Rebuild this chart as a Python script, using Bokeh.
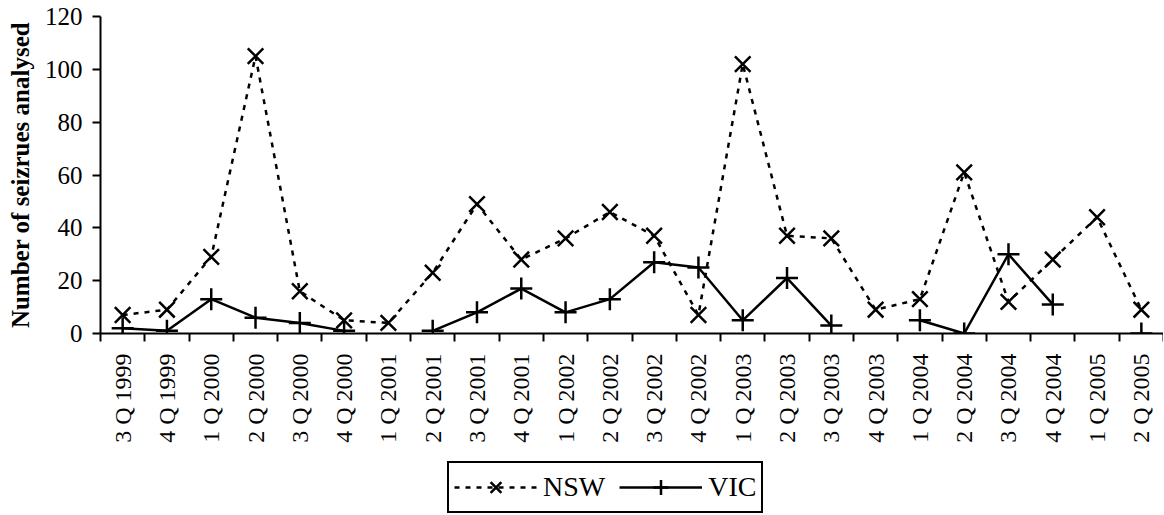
import math
from bokeh.plotting import figure
from bokeh.layouts import column
from bokeh.models import Range1d, FixedTicker, Legend, LegendItem, ColumnDataSource, LinearAxis
from bokeh.embed import file_html
from bokeh.resources import INLINE

quarters = ["3 Q 1999", "4 Q 1999", "1 Q 2000", "2 Q 2000", "3 Q 2000", "4 Q 2000",
            "1 Q 2001", "2 Q 2001", "3 Q 2001", "4 Q 2001", "1 Q 2002", "2 Q 2002",
            "3 Q 2002", "4 Q 2002", "1 Q 2003", "2 Q 2003", "3 Q 2003", "4 Q 2003",
            "1 Q 2004", "2 Q 2004", "3 Q 2004", "4 Q 2004", "1 Q 2005", "2 Q 2005"]
nsw = [7, 9, 29, 105, 16, 5, 4, 23, 49, 28, 36, 46, 37, 7, 102, 37, 36, 9, 13, 61, 12, 28, 44, 9]
nan = float("nan")
vic = [2, 1, 13, 6, 4, 1, nan, 1, 8, 17, 8, 13, 27, 25, 5, 21, 3, nan, 5, 0, 30, 11, nan, 0]
y_ticks = [0, 20, 40, 60, 80, 100, 120]
series = ["NSW", "VIC"]

FONT = "Liberation Serif"
NSW_LINE = dict(line_color="black", line_width=2.5, line_dash="5 6")
VIC_LINE = dict(line_color="black", line_width=2.5)
NSW_MARK = dict(marker="x", size=22, line_color="black", line_width=2.5)
VIC_MARK = dict(marker="cross", size=22, line_color="black", line_width=2.5)

xpos = [i + 0.5 for i in range(len(quarters))]
src = ColumnDataSource(dict(x=xpos, nsw=nsw, vic=vic))

p = figure(width=1163, height=444, frame_width=1063, frame_height=317,
           output_backend="svg", toolbar_location=None,
           x_range=Range1d(0, len(quarters)), y_range=Range1d(0, 120),
           min_border_left=100, min_border_right=0, min_border_top=16, min_border_bottom=0,
           x_axis_location=None, y_axis_location=None)
p.outline_line_color = None
p.xgrid.visible = False
p.ygrid.visible = False

yax = LinearAxis(ticker=FixedTicker(ticks=y_ticks, minor_ticks=[]))
yax.axis_line_width = 2
yax.major_tick_line_width = 2
yax.major_tick_out = 8
yax.major_tick_in = 0
yax.minor_tick_out = 0
yax.major_label_text_font = FONT
yax.major_label_text_font_size = "25px"
yax.major_label_text_color = "black"
yax.major_label_standoff = 10
yax.axis_label = "Number of seizrues analysed"
yax.axis_label_text_font = FONT
yax.axis_label_text_font_style = "bold"
yax.axis_label_text_font_size = "25px"
yax.axis_label_text_color = "black"
yax.axis_label_standoff = 8
p.add_layout(yax, "left")

xax = LinearAxis(ticker=FixedTicker(ticks=xpos, minor_ticks=list(range(len(quarters) + 1))))
xax.major_label_overrides = {x: q for x, q in zip(xpos, quarters)}
xax.major_label_orientation = math.pi / 2
xax.axis_line_width = 2
xax.major_tick_out = 0
xax.major_tick_in = 0
xax.minor_tick_out = 8
xax.minor_tick_in = 0
xax.minor_tick_line_width = 2
xax.major_label_text_font = FONT
xax.major_label_text_font_size = "24px"
xax.major_label_text_color = "black"
xax.major_label_standoff = 12
xax.axis_label_standoff = 0
p.add_layout(xax, "below")

p.line("x", "nsw", source=src, **NSW_LINE)
p.scatter("x", "nsw", source=src, **NSW_MARK)
p.line("x", "vic", source=src, **VIC_LINE)
p.scatter("x", "vic", source=src, **VIC_MARK)

# legend strip below the chart (same series, drawn out of view so only the key shows)
q = figure(width=1163, height=71, output_backend="svg", toolbar_location=None,
           x_range=Range1d(-1000, -999), y_range=Range1d(-1000, -999),
           min_border_left=0, min_border_right=0, min_border_top=0, min_border_bottom=0,
           x_axis_location=None, y_axis_location=None)
q.outline_line_color = None
q.xgrid.visible = False
q.ygrid.visible = False
g1 = q.line("x", "nsw", source=src, **NSW_LINE)
m1 = q.scatter("x", "nsw", source=src, **NSW_MARK)
g2 = q.line("x", "vic", source=src, **VIC_LINE)
m2 = q.scatter("x", "vic", source=src, **VIC_MARK)

legend = Legend(items=[LegendItem(label=series[0], renderers=[g1, m1]),
                       LegendItem(label=series[1], renderers=[g2, m2])],
                orientation="horizontal", location=(347, 3))
legend.label_text_font = FONT
legend.label_text_font_size = "28px"
legend.label_text_color = "black"
legend.glyph_width = 83
legend.glyph_height = 38
legend.label_height = 38
legend.label_standoff = 6
legend.spacing = 14
legend.padding = 5
legend.margin = 0
legend.border_line_color = "black"
legend.border_line_alpha = 1
legend.border_line_width = 2
legend.background_fill_alpha = 1
q.add_layout(legend, "center")

layout = column(p, q, spacing=0)
open("out.html", "w").write(file_html(layout, INLINE))
